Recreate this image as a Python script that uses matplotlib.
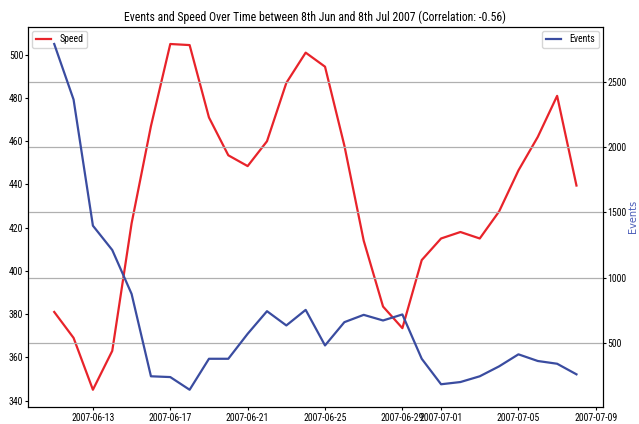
import pandas as pd
import matplotlib
matplotlib.use('Agg')
import matplotlib.pyplot as plt

# daily values, 11 Jun - 8 Jul 2007
dates = pd.date_range('2007-06-11', '2007-07-08', freq='D')
speed = [381, 369, 345, 363, 422, 467, 505, 504.5, 471, 453.5, 448.5, 460, 487, 501,
         494.5, 458, 414, 383.5, 373.5, 405, 415, 418, 415, 427.5, 446.5, 462, 481, 439.5]
events = [2788, 2363, 1398, 1212, 876, 246, 240, 143, 380, 380, 571, 744, 635, 754,
          482, 660, 716, 673, 719, 380, 185, 202, 246, 322, 414, 363, 342, 261]

red = '#e8232a'
blue = '#3a4ca0'
# the reference looks horizontally squeezed, so use a condensed face
narrow = ['Roboto Condensed', 'DejaVu Sans']

fig, ax = plt.subplots(figsize=(6.39, 4.24), dpi=100)
fig.subplots_adjust(left=0.044, right=0.943, top=0.937, bottom=0.04)

ax.plot(dates, speed, color=red, lw=1.6, label='Speed')
ax2 = ax.twinx()
ax2.plot(dates, events, color=blue, lw=1.6, label='Events')
ax2.grid(True, axis='y', color='#b0b0b0', lw=0.9)

ax2.set_ylabel('Events', color='#4a5cb8', fontsize=7, labelpad=1)

for a in (ax, ax2):
    for lab in a.get_xticklabels() + a.get_yticklabels():
        lab.set_family(narrow)
        lab.set_fontsize(7)
    a.tick_params(axis='x', length=2.5, pad=2)
    a.tick_params(axis='y', length=2, pad=1.5)

ax.set_title('Events and Speed Over Time between 8th Jun and 8th Jul 2007 (Correlation: -0.56)',
             family=narrow, fontsize=8.5, pad=4)
ax.legend(loc='upper left', prop={'family': narrow, 'size': 7}, handlelength=1.6,
          borderaxespad=0.4)
ax2.legend(loc='upper right', prop={'family': narrow, 'size': 7}, handlelength=1.6,
           borderaxespad=0.4)

plt.savefig('out.png', dpi=100)
